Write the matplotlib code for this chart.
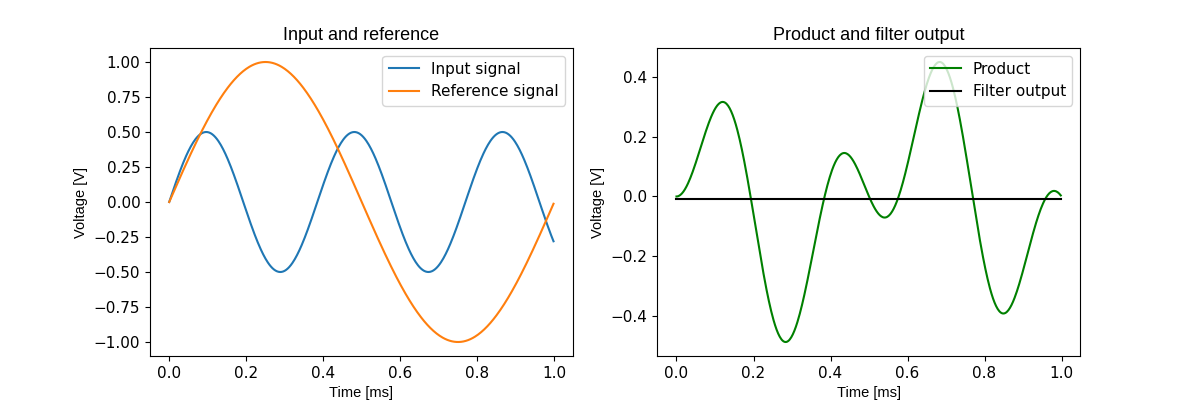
import matplotlib.pyplot as plt
import numpy as np

# signal parameters
t = np.arange(0, 1, 0.002)       # time in ms
input_amp = 0.5
input_freq = 2.6                 # cycles per ms
ref_amp = 1.0
ref_freq = 1.0

input_signal = input_amp * np.sin(2 * np.pi * input_freq * t)
reference_signal = ref_amp * np.sin(2 * np.pi * ref_freq * t)
product = input_signal * reference_signal
filter_output = np.full_like(t, product.mean())

title_font = dict(family='Liberation Sans', fontsize=13)
label_font = dict(family='Liberation Sans', fontsize=10.5)

fig, axes = plt.subplots(1, 2, figsize=(12, 4))

ax = axes[0]
ax.plot(t, input_signal, label='Input signal')
ax.plot(t, reference_signal, label='Reference signal')
ax.set_title('Input and reference', **title_font)
ax.set_xlabel('Time [ms]', **label_font)
ax.set_ylabel('Voltage [V]', **label_font)
ax.legend(loc='upper right', fontsize=11)

ax = axes[1]
ax.plot(t, product, color='green', label='Product')
ax.plot(t, filter_output, color='black', label='Filter output')
ax.set_title('Product and filter output', **title_font)
ax.set_xlabel('Time [ms]', **label_font)
ax.set_ylabel('Voltage [V]', **label_font)
ax.legend(loc='upper right', fontsize=11)

for ax in axes:
    ax.tick_params(labelsize=11)

plt.savefig('out.png', dpi=100)
plt.close()
